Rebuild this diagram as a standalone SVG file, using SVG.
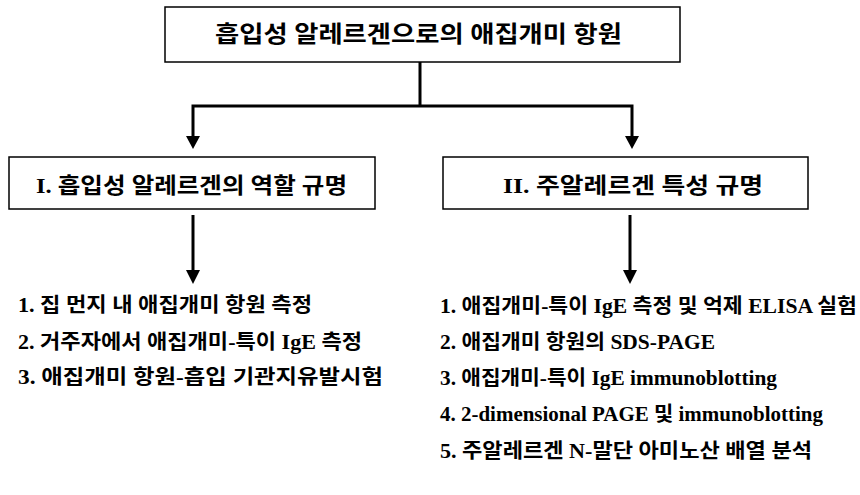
<svg xmlns="http://www.w3.org/2000/svg" width="860" height="495" viewBox="0 0 860 495">
<defs>
<style>
.box{fill:#fff;stroke:#000;stroke-width:1.5}
.t{font-family:"Liberation Serif","Noto Sans CJK KR",serif;font-weight:bold;fill:#000}
.h{font-size:22px}
.l{font-size:20px}
.c{fill:none;stroke:#000;stroke-width:3}
</style>
</defs>
<rect width="860" height="495" fill="#fff"/>
<g id="connectors">
<line class="c" x1="420" y1="62" x2="420" y2="106"/>
<polyline class="c" points="193,140 193,106 632,106 632,140"/>
<path d="M186,136 L200,136 L193,149 Z" fill="#000"/>
<path d="M625,136 L639,136 L632,149 Z" fill="#000"/>
<line class="c" x1="193" y1="215" x2="193" y2="272"/>
<path d="M186,270 L200,270 L193,284 Z" fill="#000"/>
<line class="c" x1="630" y1="215" x2="630" y2="272"/>
<path d="M623,270 L637,270 L630,284 Z" fill="#000"/>
</g>
<g id="root">
<rect class="box" x="165" y="7" width="515" height="55"/>
<text class="t" style="font-size:23px" x="215" y="42" textLength="407" lengthAdjust="spacingAndGlyphs">흡입성 알레르겐으로의 애집개미 항원</text>
</g>
<g id="node1">
<rect class="box" x="9" y="157" width="366" height="52"/>
<text class="t h" x="36" y="193" textLength="311" lengthAdjust="spacingAndGlyphs">I. 흡입성 알레르겐의 역할 규명</text>
</g>
<g id="node2">
<rect class="box" x="443" y="157" width="365" height="52"/>
<text class="t h" x="503" y="193" textLength="260" lengthAdjust="spacingAndGlyphs">II. 주알레르겐 특성 규명</text>
</g>
<g id="list1">
<text class="t l" x="18" y="312" textLength="294" lengthAdjust="spacingAndGlyphs">1. 집 먼지 내 애집개미 항원 측정</text>
<text class="t l" x="18" y="349" textLength="344" lengthAdjust="spacingAndGlyphs">2. 거주자에서 애집개미-특이 IgE 측정</text>
<text class="t l" x="18" y="384" textLength="365" lengthAdjust="spacingAndGlyphs">3. 애집개미 항원-흡입 기관지유발시험</text>
</g>
<g id="list2">
<text class="t l" x="440" y="313" textLength="417" lengthAdjust="spacingAndGlyphs">1. 애집개미-특이 IgE 측정 및 억제 ELISA 실험</text>
<text class="t l" x="440" y="349" textLength="275" lengthAdjust="spacingAndGlyphs">2. 애집개미 항원의 SDS-PAGE</text>
<text class="t l" x="440" y="385" textLength="337" lengthAdjust="spacingAndGlyphs">3. 애집개미-특이 IgE immunoblotting</text>
<text class="t l" x="440" y="421" textLength="383" lengthAdjust="spacingAndGlyphs">4. 2-dimensional PAGE 및 immunoblotting</text>
<text class="t l" x="440" y="458" textLength="372" lengthAdjust="spacingAndGlyphs">5. 주알레르겐 N-말단 아미노산 배열 분석</text>
</g>
</svg>
